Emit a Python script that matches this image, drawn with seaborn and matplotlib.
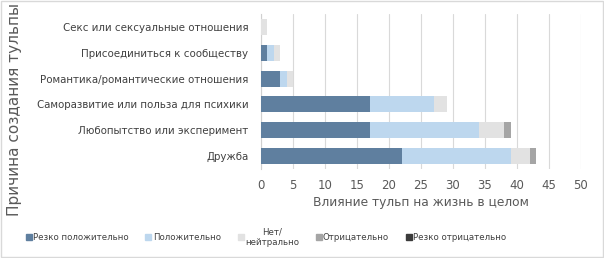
import matplotlib
matplotlib.use("Agg")
import matplotlib.pyplot as plt
from matplotlib.patches import Rectangle
from matplotlib.lines import Line2D
import seaborn as sns
import pandas as pd
import numpy as np

categories = ["Секс или сексуальные отношения",
              "Присоединиться к сообществу",
              "Романтика/романтические отношения",
              "Саморазвитие или польза для психики",
              "Любопытство или эксперимент",
              "Дружба"]
series_names = ["Резко положительно", "Положительно", "Нет/\nнейтрально",
                "Отрицательно", "Резко отрицательно"]
strong_pos = [0, 1, 3, 17, 17, 22]
pos = [0, 1, 1, 10, 17, 17]
neutral = [1, 1, 1, 2, 4, 3]
neg = [0, 0, 0, 0, 1, 1]
strong_neg = [0, 0, 0, 0, 0, 0]
colors = ["#5f7f9f", "#bdd7ee", "#e2e2e2", "#a5a5a5", "#3b3b3b"]
xticks = list(range(0, 55, 5))

sns.set_theme(style="white")
plt.rcParams['font.family'] = ['DejaVu Sans']

fig = plt.figure(figsize=(6.04, 2.58), dpi=100)
ax = fig.add_axes([261/604, 1-169/258, 320/604, 155/258])

vals = np.array([strong_pos, pos, neutral, neg, strong_neg], dtype=float)
cum = vals.cumsum(axis=0)
for i in range(len(series_names) - 1, -1, -1):
    df = pd.DataFrame({"cat": categories, "val": cum[i]})
    sns.barplot(data=df, y="cat", x="val", color=colors[i], orient="h",
                width=0.62, saturation=1, ax=ax, linewidth=0, zorder=3)

ax.set_xlim(0, 50)
ax.set_xticks(xticks)
ax.set_xticklabels([str(t) for t in xticks], color="#595959", fontsize=8.5)
ax.tick_params(axis="y", labelsize=7.35, labelcolor="#404040", length=0, pad=9)
ax.tick_params(axis="x", length=0, pad=7)
ax.grid(axis="x", color="#d9d9d9", linewidth=0.8, zorder=0)
for s in ["top", "right", "bottom"]:
    ax.spines[s].set_visible(False)
ax.spines["left"].set_color("#d0d0d0")
ax.spines["left"].set_linewidth(0.8)
ax.set_xlabel("Влияние тульп на жизнь в целом", fontsize=8.8, color="#595959", labelpad=3)
ax.set_ylabel("")
fig.text(15/604, 1-110/258, "Причина создания тульпы", rotation=90, fontsize=11,
         color="#595959", ha="center", va="center")

handles = [Line2D([0], [0], marker="s", linestyle="", markersize=4.5,
                  markerfacecolor=c, markeredgecolor=c) for c in colors]
leg = fig.legend(handles, series_names, loc="center", ncol=5,
                 bbox_to_anchor=(0.44, 1-237/258), frameon=False,
                 fontsize=6.2, handletextpad=0.1, columnspacing=1.9,
                 handlelength=0.8)
for t in leg.get_texts():
    t.set_color("#404040")
    t.set_ha("center")

fig.patches.append(Rectangle((0.002, 0.004), 0.996, 0.992, transform=fig.transFigure,
                             fill=False, edgecolor="#d9d9d9", linewidth=1))
fig.savefig("out.png", dpi=100, facecolor="white")
